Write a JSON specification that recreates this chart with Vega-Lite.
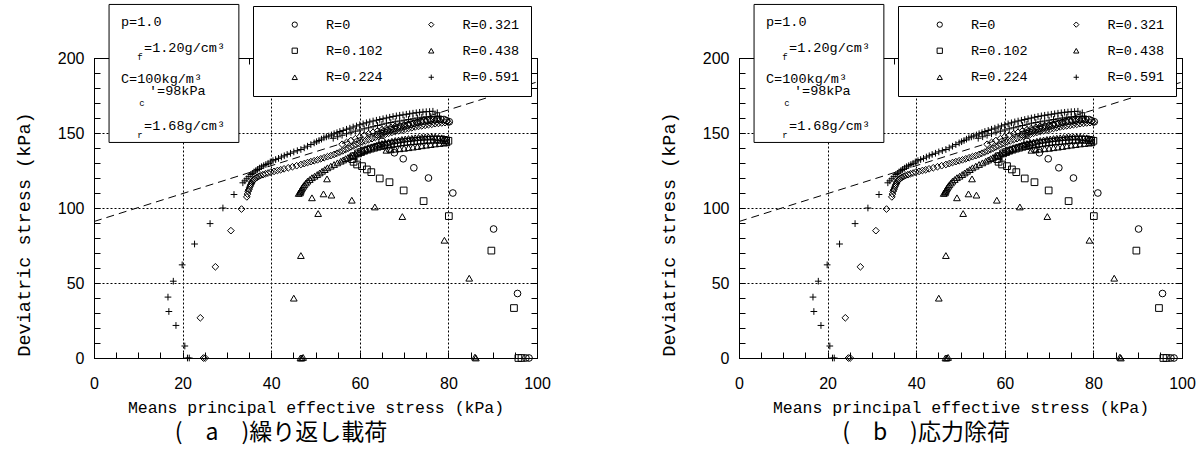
{
  "$schema": "https://vega.github.io/schema/vega-lite/v6.json",
  "background": "white",
  "padding": {"left": 13, "top": 3, "right": 5, "bottom": 5},
  "config": {
    "view": {"stroke": "black", "strokeWidth": 1},
    "axis": {"domainColor": "black", "tickColor": "black", "labelColor": "black", "titleColor": "black", "tickWidth": 1, "domainWidth": 1},
    "legend": {"titleOrient": "left", "titleFontSize": 1, "titlePadding": 23.5, "orient": "none", "legendX": 159, "legendY": -52, "columns": 2,
      "strokeColor": "black", "fillColor": "white", "padding": 11.5, "rowPadding": 11.5, "columnPadding": 41.5, "labelOffset": 24.5, "symbolOffset": 0,
      "labelFont": "Liberation Mono", "labelFontSize": 13.5, "labelColor": "black", "symbolSize": 28, "symbolStrokeColor": "black", "symbolStrokeWidth": 1, "symbolFillColor": "transparent"}
  },
  "datasets": {
    "cs": [{"p": 0, "q": 91}, {"p": 100, "q": 184}],
    "pts": [
      {"s": "R=0", "p": 98.2, "q": 0}, {"s": "R=0", "p": 97.5, "q": 0}, {"s": "R=0", "p": 95.6, "q": 43}, {"s": "R=0", "p": 90.2, "q": 86},
      {"s": "R=0", "p": 81, "q": 110}, {"s": "R=0", "p": 75.5, "q": 120}, {"s": "R=0", "p": 72.2, "q": 126.8}, {"s": "R=0", "p": 69.8, "q": 132.8},
      {"s": "R=0", "p": 67.8, "q": 136.8}, {"s": "R=0", "p": 66.6, "q": 139.3}, {"s": "R=0", "p": 65.6, "q": 141.8}, {"s": "R=0", "p": 65, "q": 144.5},
      {"s": "R=0", "p": 64, "q": 149}, {"s": "R=0", "p": 65.5, "q": 150.8}, {"s": "R=0", "p": 67, "q": 152.2}, {"s": "R=0", "p": 68.5, "q": 153.4},
      {"s": "R=0", "p": 70, "q": 154.6}, {"s": "R=0", "p": 71.5, "q": 155.8}, {"s": "R=0", "p": 73, "q": 157}, {"s": "R=0", "p": 74.5, "q": 158},
      {"s": "R=0", "p": 76, "q": 158.8}, {"s": "R=0", "p": 77.5, "q": 159.3}, {"s": "R=0", "p": 79, "q": 159}, {"s": "R=0", "p": 80.2, "q": 157.5},
      {"s": "R=0", "p": 64.75, "q": 149.9}, {"s": "R=0", "p": 66.25, "q": 151.5}, {"s": "R=0", "p": 67.75, "q": 152.8}, {"s": "R=0", "p": 69.25, "q": 154},
      {"s": "R=0", "p": 70.75, "q": 155.2}, {"s": "R=0", "p": 72.25, "q": 156.4}, {"s": "R=0", "p": 73.75, "q": 157.5}, {"s": "R=0", "p": 75.25, "q": 158.4},
      {"s": "R=0", "p": 76.75, "q": 159}, {"s": "R=0", "p": 78.25, "q": 159.2}, {"s": "R=0", "p": 79.6, "q": 158.2},

      {"s": "R=0.102", "p": 96.5, "q": 0}, {"s": "R=0.102", "p": 95.8, "q": 0}, {"s": "R=0.102", "p": 94.8, "q": 33.3}, {"s": "R=0.102", "p": 89.7, "q": 71.6},
      {"s": "R=0.102", "p": 80.1, "q": 94.6}, {"s": "R=0.102", "p": 74.4, "q": 104.6}, {"s": "R=0.102", "p": 69.9, "q": 111.7}, {"s": "R=0.102", "p": 66.7, "q": 117.2},
      {"s": "R=0.102", "p": 64.5, "q": 119.7}, {"s": "R=0.102", "p": 62.6, "q": 123.9}, {"s": "R=0.102", "p": 61.6, "q": 125.7}, {"s": "R=0.102", "p": 60.5, "q": 127.9},
      {"s": "R=0.102", "p": 59.4, "q": 129}, {"s": "R=0.102", "p": 58.6, "q": 130.8}, {"s": "R=0.102", "p": 58.3, "q": 132.6}, {"s": "R=0.102", "p": 58.6, "q": 134.5},
      {"s": "R=0.102", "p": 59.6, "q": 136.4}, {"s": "R=0.102", "p": 61, "q": 138.2}, {"s": "R=0.102", "p": 62.5, "q": 139.6}, {"s": "R=0.102", "p": 64, "q": 140.8},
      {"s": "R=0.102", "p": 65.5, "q": 141.8}, {"s": "R=0.102", "p": 67, "q": 142.6}, {"s": "R=0.102", "p": 68.5, "q": 143.3}, {"s": "R=0.102", "p": 70, "q": 143.9},
      {"s": "R=0.102", "p": 71.5, "q": 144.4}, {"s": "R=0.102", "p": 73, "q": 144.8}, {"s": "R=0.102", "p": 74.5, "q": 145.2}, {"s": "R=0.102", "p": 76, "q": 145.5},
      {"s": "R=0.102", "p": 77.5, "q": 145.6}, {"s": "R=0.102", "p": 79, "q": 145.4}, {"s": "R=0.102", "p": 80, "q": 144.8},
      {"s": "R=0.102", "p": 60.3, "q": 137.3}, {"s": "R=0.102", "p": 61.75, "q": 138.9}, {"s": "R=0.102", "p": 63.25, "q": 140.2}, {"s": "R=0.102", "p": 64.75, "q": 141.3},
      {"s": "R=0.102", "p": 66.25, "q": 142.2}, {"s": "R=0.102", "p": 67.75, "q": 143}, {"s": "R=0.102", "p": 69.25, "q": 143.6}, {"s": "R=0.102", "p": 70.75, "q": 144.2},
      {"s": "R=0.102", "p": 72.25, "q": 144.6}, {"s": "R=0.102", "p": 73.75, "q": 145}, {"s": "R=0.102", "p": 75.25, "q": 145.4}, {"s": "R=0.102", "p": 76.75, "q": 145.6},
      {"s": "R=0.102", "p": 78.25, "q": 145.5}, {"s": "R=0.102", "p": 79.5, "q": 145.1},

      {"s": "R=0.224", "p": 86.2, "q": 0}, {"s": "R=0.224", "p": 86, "q": 0.6}, {"s": "R=0.224", "p": 84.7, "q": 53.2}, {"s": "R=0.224", "p": 79.1, "q": 78.5},
      {"s": "R=0.224", "p": 69.6, "q": 94.3}, {"s": "R=0.224", "p": 63.4, "q": 100.7}, {"s": "R=0.224", "p": 58.2, "q": 105.2}, {"s": "R=0.224", "p": 53.6, "q": 108.6},
      {"s": "R=0.224", "p": 51.8, "q": 109.4}, {"s": "R=0.224", "p": 49.2, "q": 106.8}, {"s": "R=0.224", "p": 52.6, "q": 119.4},
      {"s": "R=0.224", "p": 66, "q": 138.5}, {"s": "R=0.224", "p": 68, "q": 139.2}, {"s": "R=0.224", "p": 70, "q": 139.8}, {"s": "R=0.224", "p": 72, "q": 140.6},
      {"s": "R=0.224", "p": 74, "q": 141.5}, {"s": "R=0.224", "p": 76, "q": 142.3}, {"s": "R=0.224", "p": 78, "q": 143}, {"s": "R=0.224", "p": 79.6, "q": 143.5},
      {"s": "R=0.224", "p": 67, "q": 138.8}, {"s": "R=0.224", "p": 69, "q": 139.5}, {"s": "R=0.224", "p": 71, "q": 140.2}, {"s": "R=0.224", "p": 73, "q": 141},
      {"s": "R=0.224", "p": 75, "q": 141.9}, {"s": "R=0.224", "p": 77, "q": 142.7}, {"s": "R=0.224", "p": 79, "q": 143.3},

      {"s": "R=0.438", "p": 46.9, "q": 0}, {"s": "R=0.438", "p": 46.6, "q": 0}, {"s": "R=0.438", "p": 47.2, "q": 0.4}, {"s": "R=0.438", "p": 45.1, "q": 39.9},
      {"s": "R=0.438", "p": 46.7, "q": 68.3}, {"s": "R=0.438", "p": 50.6, "q": 96.3}, {"s": "R=0.438", "p": 46.2, "q": 109.7}, {"s": "R=0.438", "p": 46.5, "q": 110.1},
      {"s": "R=0.438", "p": 46.7, "q": 111.8}, {"s": "R=0.438", "p": 47, "q": 113.4}, {"s": "R=0.438", "p": 47.5, "q": 115.5}, {"s": "R=0.438", "p": 48.2, "q": 117.9},
      {"s": "R=0.438", "p": 49.2, "q": 120.2}, {"s": "R=0.438", "p": 50.4, "q": 122.3}, {"s": "R=0.438", "p": 51.5, "q": 124.5}, {"s": "R=0.438", "p": 52.7, "q": 126.8},
      {"s": "R=0.438", "p": 54.2, "q": 129}, {"s": "R=0.438", "p": 55.7, "q": 131.2}, {"s": "R=0.438", "p": 56.8, "q": 132.9}, {"s": "R=0.438", "p": 57.9, "q": 134.6},
      {"s": "R=0.438", "p": 59, "q": 136}, {"s": "R=0.438", "p": 60.2, "q": 137.5}, {"s": "R=0.438", "p": 61.4, "q": 139}, {"s": "R=0.438", "p": 62.6, "q": 140.5},
      {"s": "R=0.438", "p": 63.8, "q": 141.8}, {"s": "R=0.438", "p": 65, "q": 143}, {"s": "R=0.438", "p": 66.5, "q": 144}, {"s": "R=0.438", "p": 68, "q": 145},
      {"s": "R=0.438", "p": 69.5, "q": 145.7}, {"s": "R=0.438", "p": 71, "q": 146.3}, {"s": "R=0.438", "p": 72.5, "q": 146.8}, {"s": "R=0.438", "p": 74, "q": 147.2},
      {"s": "R=0.438", "p": 75.5, "q": 147.4}, {"s": "R=0.438", "p": 77, "q": 147.3}, {"s": "R=0.438", "p": 78.5, "q": 146.8}, {"s": "R=0.438", "p": 79.5, "q": 146},
      {"s": "R=0.438", "p": 46.6, "q": 111}, {"s": "R=0.438", "p": 46.85, "q": 112.6}, {"s": "R=0.438", "p": 47.25, "q": 114.5}, {"s": "R=0.438", "p": 47.85, "q": 116.7},
      {"s": "R=0.438", "p": 48.7, "q": 119}, {"s": "R=0.438", "p": 49.8, "q": 121.2}, {"s": "R=0.438", "p": 50.95, "q": 123.4}, {"s": "R=0.438", "p": 52.1, "q": 125.6},
      {"s": "R=0.438", "p": 53.45, "q": 127.9}, {"s": "R=0.438", "p": 54.95, "q": 130.1}, {"s": "R=0.438", "p": 56.25, "q": 132}, {"s": "R=0.438", "p": 57.35, "q": 133.7},
      {"s": "R=0.438", "p": 58.45, "q": 135.3}, {"s": "R=0.438", "p": 59.6, "q": 136.7}, {"s": "R=0.438", "p": 60.8, "q": 138.2}, {"s": "R=0.438", "p": 62, "q": 139.7},
      {"s": "R=0.438", "p": 63.2, "q": 141.1}, {"s": "R=0.438", "p": 64.4, "q": 142.4}, {"s": "R=0.438", "p": 65.75, "q": 143.5}, {"s": "R=0.438", "p": 67.25, "q": 144.5},
      {"s": "R=0.438", "p": 68.75, "q": 145.3}, {"s": "R=0.438", "p": 70.25, "q": 146}, {"s": "R=0.438", "p": 71.75, "q": 146.5}, {"s": "R=0.438", "p": 73.25, "q": 147},
      {"s": "R=0.438", "p": 74.75, "q": 147.3}, {"s": "R=0.438", "p": 76.25, "q": 147.4}, {"s": "R=0.438", "p": 77.75, "q": 147}, {"s": "R=0.438", "p": 79, "q": 146.4},

      {"s": "R=0.321", "p": 25.1, "q": 0}, {"s": "R=0.321", "p": 24.7, "q": 0}, {"s": "R=0.321", "p": 24, "q": 26.8}, {"s": "R=0.321", "p": 27.4, "q": 60.8},
      {"s": "R=0.321", "p": 30.9, "q": 84.9}, {"s": "R=0.321", "p": 33.3, "q": 99.3}, {"s": "R=0.321", "p": 34.5, "q": 107.4}, {"s": "R=0.321", "p": 34.8, "q": 111.2},
      {"s": "R=0.321", "p": 35.1, "q": 113.5}, {"s": "R=0.321", "p": 35.4, "q": 115.7}, {"s": "R=0.321", "p": 35.7, "q": 117.5}, {"s": "R=0.321", "p": 36.1, "q": 119},
      {"s": "R=0.321", "p": 36.8, "q": 120.5}, {"s": "R=0.321", "p": 37.6, "q": 121.7}, {"s": "R=0.321", "p": 38.7, "q": 122.8}, {"s": "R=0.321", "p": 39.9, "q": 123.9},
      {"s": "R=0.321", "p": 41.4, "q": 125}, {"s": "R=0.321", "p": 42.9, "q": 126.1}, {"s": "R=0.321", "p": 44.8, "q": 127.5}, {"s": "R=0.321", "p": 46.7, "q": 129},
      {"s": "R=0.321", "p": 48.2, "q": 130.3}, {"s": "R=0.321", "p": 49.7, "q": 131.5}, {"s": "R=0.321", "p": 51.2, "q": 132.8}, {"s": "R=0.321", "p": 52.7, "q": 134.2},
      {"s": "R=0.321", "p": 54.2, "q": 135.7}, {"s": "R=0.321", "p": 55.5, "q": 137.3}, {"s": "R=0.321", "p": 56.8, "q": 139}, {"s": "R=0.321", "p": 58, "q": 140.7},
      {"s": "R=0.321", "p": 59.2, "q": 142.3}, {"s": "R=0.321", "p": 60.5, "q": 144}, {"s": "R=0.321", "p": 62, "q": 145.5}, {"s": "R=0.321", "p": 63.5, "q": 147},
      {"s": "R=0.321", "p": 65, "q": 148.5}, {"s": "R=0.321", "p": 66.5, "q": 149.8}, {"s": "R=0.321", "p": 68, "q": 151}, {"s": "R=0.321", "p": 69.5, "q": 152},
      {"s": "R=0.321", "p": 71, "q": 153}, {"s": "R=0.321", "p": 72.5, "q": 154}, {"s": "R=0.321", "p": 74, "q": 154.8}, {"s": "R=0.321", "p": 75.5, "q": 155.5},
      {"s": "R=0.321", "p": 77, "q": 156.2}, {"s": "R=0.321", "p": 78.5, "q": 156.7}, {"s": "R=0.321", "p": 80, "q": 157},
      {"s": "R=0.321", "p": 56, "q": 142.5}, {"s": "R=0.321", "p": 58, "q": 145}, {"s": "R=0.321", "p": 60, "q": 147.5}, {"s": "R=0.321", "p": 62, "q": 149.5},
      {"s": "R=0.321", "p": 64, "q": 151.5}, {"s": "R=0.321", "p": 66, "q": 153}, {"s": "R=0.321", "p": 68, "q": 154.5}, {"s": "R=0.321", "p": 70, "q": 155.5},
      {"s": "R=0.321", "p": 72, "q": 156.5}, {"s": "R=0.321", "p": 74, "q": 157.5}, {"s": "R=0.321", "p": 76, "q": 158}, {"s": "R=0.321", "p": 78, "q": 158.5},
      {"s": "R=0.321", "p": 34.65, "q": 109.3}, {"s": "R=0.321", "p": 34.95, "q": 112.3}, {"s": "R=0.321", "p": 35.25, "q": 114.6}, {"s": "R=0.321", "p": 35.55, "q": 116.6},
      {"s": "R=0.321", "p": 35.9, "q": 118.2}, {"s": "R=0.321", "p": 36.45, "q": 119.8}, {"s": "R=0.321", "p": 37.2, "q": 121.1}, {"s": "R=0.321", "p": 38.15, "q": 122.2},
      {"s": "R=0.321", "p": 39.3, "q": 123.3}, {"s": "R=0.321", "p": 40.65, "q": 124.4}, {"s": "R=0.321", "p": 42.15, "q": 125.5}, {"s": "R=0.321", "p": 43.85, "q": 126.8},
      {"s": "R=0.321", "p": 45.75, "q": 128.2}, {"s": "R=0.321", "p": 47.45, "q": 129.6}, {"s": "R=0.321", "p": 48.95, "q": 130.9}, {"s": "R=0.321", "p": 50.45, "q": 132.1},
      {"s": "R=0.321", "p": 51.95, "q": 133.5}, {"s": "R=0.321", "p": 53.45, "q": 134.9}, {"s": "R=0.321", "p": 54.85, "q": 136.5}, {"s": "R=0.321", "p": 56.15, "q": 138.1},
      {"s": "R=0.321", "p": 57.4, "q": 139.8}, {"s": "R=0.321", "p": 58.6, "q": 141.5}, {"s": "R=0.321", "p": 59.85, "q": 143.1}, {"s": "R=0.321", "p": 61.25, "q": 144.7},
      {"s": "R=0.321", "p": 62.75, "q": 146.2}, {"s": "R=0.321", "p": 64.25, "q": 147.7}, {"s": "R=0.321", "p": 65.75, "q": 149.1}, {"s": "R=0.321", "p": 67.25, "q": 150.4},
      {"s": "R=0.321", "p": 68.75, "q": 151.5}, {"s": "R=0.321", "p": 70.25, "q": 152.5}, {"s": "R=0.321", "p": 71.75, "q": 153.5}, {"s": "R=0.321", "p": 73.25, "q": 154.4},
      {"s": "R=0.321", "p": 74.75, "q": 155.1}, {"s": "R=0.321", "p": 76.25, "q": 155.8}, {"s": "R=0.321", "p": 77.75, "q": 156.4}, {"s": "R=0.321", "p": 79.25, "q": 156.9},
      {"s": "R=0.321", "p": 57, "q": 143.7}, {"s": "R=0.321", "p": 59, "q": 146.2}, {"s": "R=0.321", "p": 61, "q": 148.5}, {"s": "R=0.321", "p": 63, "q": 150.5},
      {"s": "R=0.321", "p": 65, "q": 152.2}, {"s": "R=0.321", "p": 67, "q": 153.8}, {"s": "R=0.321", "p": 69, "q": 155}, {"s": "R=0.321", "p": 71, "q": 156},
      {"s": "R=0.321", "p": 73, "q": 157}, {"s": "R=0.321", "p": 75, "q": 157.8}, {"s": "R=0.321", "p": 77, "q": 158.2},

      {"s": "R=0.591", "p": 21.5, "q": 0}, {"s": "R=0.591", "p": 21.1, "q": 0}, {"s": "R=0.591", "p": 20.5, "q": 8}, {"s": "R=0.591", "p": 18.5, "q": 21.7},
      {"s": "R=0.591", "p": 16.9, "q": 31}, {"s": "R=0.591", "p": 16.7, "q": 40.6}, {"s": "R=0.591", "p": 17.9, "q": 51.2}, {"s": "R=0.591", "p": 19.9, "q": 62.1},
      {"s": "R=0.591", "p": 22.7, "q": 76}, {"s": "R=0.591", "p": 26.2, "q": 89.6}, {"s": "R=0.591", "p": 29.1, "q": 100}, {"s": "R=0.591", "p": 31.6, "q": 109},
      {"s": "R=0.591", "p": 33.6, "q": 116.8}, {"s": "R=0.591", "p": 34.5, "q": 119.5}, {"s": "R=0.591", "p": 35.4, "q": 122.3}, {"s": "R=0.591", "p": 36.1, "q": 124},
      {"s": "R=0.591", "p": 36.9, "q": 125.7}, {"s": "R=0.591", "p": 37.8, "q": 127.5}, {"s": "R=0.591", "p": 38.8, "q": 129}, {"s": "R=0.591", "p": 39.8, "q": 130.7},
      {"s": "R=0.591", "p": 41, "q": 132.3}, {"s": "R=0.591", "p": 42.3, "q": 134}, {"s": "R=0.591", "p": 43.6, "q": 135.7}, {"s": "R=0.591", "p": 45.1, "q": 137.4},
      {"s": "R=0.591", "p": 46.7, "q": 139}, {"s": "R=0.591", "p": 48.2, "q": 141.2}, {"s": "R=0.591", "p": 49.7, "q": 143.4}, {"s": "R=0.591", "p": 50.8, "q": 145},
      {"s": "R=0.591", "p": 51.9, "q": 146.8}, {"s": "R=0.591", "p": 53, "q": 148}, {"s": "R=0.591", "p": 54.2, "q": 149.5}, {"s": "R=0.591", "p": 55.5, "q": 151},
      {"s": "R=0.591", "p": 57, "q": 152.5}, {"s": "R=0.591", "p": 58.5, "q": 154}, {"s": "R=0.591", "p": 60, "q": 155.5}, {"s": "R=0.591", "p": 61.5, "q": 156.8},
      {"s": "R=0.591", "p": 63, "q": 158}, {"s": "R=0.591", "p": 64.5, "q": 159}, {"s": "R=0.591", "p": 66, "q": 160}, {"s": "R=0.591", "p": 67.5, "q": 161},
      {"s": "R=0.591", "p": 69, "q": 161.8}, {"s": "R=0.591", "p": 70.5, "q": 162.5}, {"s": "R=0.591", "p": 72, "q": 163.2}, {"s": "R=0.591", "p": 73.5, "q": 163.8},
      {"s": "R=0.591", "p": 75, "q": 164.2}, {"s": "R=0.591", "p": 76.5, "q": 164.5}, {"s": "R=0.591", "p": 77.5, "q": 163.5},
      {"s": "R=0.591", "p": 54, "q": 146.5}, {"s": "R=0.591", "p": 56, "q": 148.5}, {"s": "R=0.591", "p": 58, "q": 150.5}, {"s": "R=0.591", "p": 60, "q": 152},
      {"s": "R=0.591", "p": 62, "q": 153.5}, {"s": "R=0.591", "p": 64, "q": 155}, {"s": "R=0.591", "p": 66, "q": 156.5}, {"s": "R=0.591", "p": 68, "q": 157.5},
      {"s": "R=0.591", "p": 70, "q": 158.5}, {"s": "R=0.591", "p": 72, "q": 159.5}, {"s": "R=0.591", "p": 74, "q": 160.5}, {"s": "R=0.591", "p": 76, "q": 161},
      {"s": "R=0.591", "p": 78, "q": 161},
      {"s": "R=0.591", "p": 34.05, "q": 118.1}, {"s": "R=0.591", "p": 34.95, "q": 120.9}, {"s": "R=0.591", "p": 35.75, "q": 123.1}, {"s": "R=0.591", "p": 36.5, "q": 124.8},
      {"s": "R=0.591", "p": 37.35, "q": 126.6}, {"s": "R=0.591", "p": 38.3, "q": 128.2}, {"s": "R=0.591", "p": 39.3, "q": 129.8}, {"s": "R=0.591", "p": 40.4, "q": 131.5},
      {"s": "R=0.591", "p": 41.65, "q": 133.1}, {"s": "R=0.591", "p": 42.95, "q": 134.8}, {"s": "R=0.591", "p": 44.35, "q": 136.5}, {"s": "R=0.591", "p": 45.9, "q": 138.2},
      {"s": "R=0.591", "p": 47.45, "q": 140.1}, {"s": "R=0.591", "p": 48.95, "q": 142.3}, {"s": "R=0.591", "p": 50.25, "q": 144.2}, {"s": "R=0.591", "p": 51.35, "q": 145.9},
      {"s": "R=0.591", "p": 52.45, "q": 147.4}, {"s": "R=0.591", "p": 53.6, "q": 148.7}, {"s": "R=0.591", "p": 54.85, "q": 150.2}, {"s": "R=0.591", "p": 56.25, "q": 151.7},
      {"s": "R=0.591", "p": 57.75, "q": 153.2}, {"s": "R=0.591", "p": 59.25, "q": 154.7}, {"s": "R=0.591", "p": 60.75, "q": 156.1}, {"s": "R=0.591", "p": 62.25, "q": 157.4},
      {"s": "R=0.591", "p": 63.75, "q": 158.5}, {"s": "R=0.591", "p": 65.25, "q": 159.5}, {"s": "R=0.591", "p": 66.75, "q": 160.5}, {"s": "R=0.591", "p": 68.25, "q": 161.4},
      {"s": "R=0.591", "p": 69.75, "q": 162.1}, {"s": "R=0.591", "p": 71.25, "q": 162.8}, {"s": "R=0.591", "p": 72.75, "q": 163.5}, {"s": "R=0.591", "p": 74.25, "q": 164},
      {"s": "R=0.591", "p": 75.75, "q": 164.3},
      {"s": "R=0.591", "p": 55, "q": 147.5}, {"s": "R=0.591", "p": 57, "q": 149.5}, {"s": "R=0.591", "p": 59, "q": 151.2}, {"s": "R=0.591", "p": 61, "q": 152.8},
      {"s": "R=0.591", "p": 63, "q": 154.2}, {"s": "R=0.591", "p": 65, "q": 155.8}, {"s": "R=0.591", "p": 67, "q": 157}, {"s": "R=0.591", "p": 69, "q": 158},
      {"s": "R=0.591", "p": 71, "q": 159}, {"s": "R=0.591", "p": 73, "q": 160}, {"s": "R=0.591", "p": 75, "q": 160.8}, {"s": "R=0.591", "p": 77, "q": 161}
    ]
  },
  "spacing": 107,
  "resolve": {"scale": {"shape": "independent"}, "legend": {"shape": "independent"}},
  "hconcat": [
    {
      "width": 443, "height": 300,
      "title": {"text": "(　a　)繰り返し載荷", "orient": "bottom", "anchor": "middle", "dx": -34.5, "offset": 6, "font": "Noto Sans CJK JP", "fontSize": 23, "fontWeight": "normal", "color": "black"},
      "resolve": {"axis": {"x": "independent", "y": "independent"}},
      "layer": [
        {
          "data": {"name": "pts"},
          "mark": {"type": "point", "filled": false, "stroke": "black", "strokeWidth": 1, "size": 45, "opacity": 1},
          "encoding": {
            "x": {"field": "p", "type": "quantitative", "scale": {"domain": [0, 100], "nice": false, "zero": false},
              "axis": {"orient": "bottom", "values": [0,5,10,15,20,25,30,35,40,45,50,55,60,65,70,75,80,85,90,95,100], "labelExpr": "datum.value % 20 === 0 ? datum.label : ''",
                "tickSize": -6, "labelPadding": 23.5, "labelFlush": false, "labelOverlap": false, "labelFont": "Liberation Sans", "labelFontSize": 16,
                "grid": true, "gridColor": "black", "gridDash": [2, 2], "gridOpacity": {"condition": {"test": "datum.value % 20 === 0", "value": 1}, "value": 0},
                "title": "Means principal effective stress (kPa)", "titleFont": "Liberation Mono", "titleFontSize": 16.5, "titleFontWeight": "normal", "titlePadding": 8}},
            "y": {"field": "q", "type": "quantitative", "scale": {"domain": [0, 200], "nice": false, "zero": false},
              "axis": {"orient": "left", "values": [0,10,20,30,40,50,60,70,80,90,100,110,120,130,140,150,160,170,180,190,200], "labelExpr": "datum.value % 50 === 0 ? datum.label : ''",
                "tickSize": -6, "labelPadding": 16, "labelFlush": false, "labelOverlap": false, "labelFont": "Liberation Sans", "labelFontSize": 16,
                "grid": true, "gridColor": "black", "gridDash": [2, 2], "gridOpacity": {"condition": {"test": "datum.value % 50 === 0", "value": 1}, "value": 0},
                "title": "Deviatric stress (kPa)", "titleFont": "Liberation Mono", "titleFontSize": 18.5, "titleFontWeight": "normal",
                "titleAngle": 270, "titleAlign": "center", "titleBaseline": "bottom", "titleX": -61, "titleY": 176}},
            "shape": {"field": "s", "type": "nominal",
              "scale": {"domain": ["R=0", "R=0.102", "R=0.224", "R=0.321", "R=0.438", "R=0.591"], "range": ["circle", "square", "triangle-up", "diamond", "triangle-up", "M-1,0L1,0M0,-1L0,1"]},
              "legend": {"title": "\u00a0", "titleOrient": "left", "titleFontSize": 1, "titlePadding": 23.5, "orient": "none", "legendX": 159, "legendY": -52}}
          }
        },
        {
          "data": {"name": "cs"},
          "mark": {"type": "line", "color": "black", "strokeWidth": 1, "strokeDash": [8, 5]},
          "encoding": {
            "x": {"field": "p", "type": "quantitative", "scale": {"domain": [0, 100], "nice": false, "zero": false},
              "axis": {"orient": "top", "values": [0,5,10,15,20,25,30,35,40,45,50,55,60,65,70,75,80,85,90,95,100], "labels": false, "tickSize": -6, "grid": false, "title": null}},
            "y": {"field": "q", "type": "quantitative", "scale": {"domain": [0, 200], "nice": false, "zero": false},
              "axis": {"orient": "right", "values": [0,10,20,30,40,50,60,70,80,90,100,110,120,130,140,150,160,170,180,190,200], "labels": false, "tickSize": -6, "grid": false, "title": null}}
          }
        },
        {
          "data": {"values": [{}]},
          "mark": {"type": "rect", "fill": "white", "stroke": "black", "strokeWidth": 1},
          "encoding": {"x": {"datum": 3.4, "type": "quantitative", "axis": null}, "x2": {"datum": 32.7}, "y": {"datum": 235.7, "type": "quantitative", "axis": null}, "y2": {"datum": 143.7}}
        },
        {"data": {"values": [{}]}, "mark": {"type": "text", "text": "p=1.0", "font": "Liberation Mono", "fontSize": 13.5, "align": "left", "baseline": "middle", "color": "black"},
          "encoding": {"x": {"datum": 6.1, "type": "quantitative", "axis": null}, "y": {"datum": 223.7, "type": "quantitative", "axis": null}}},
        {"data": {"values": [{}]}, "mark": {"type": "text", "text": "=1.20g/cm³", "font": "Liberation Mono", "fontSize": 13.5, "align": "left", "baseline": "middle", "color": "black"},
          "encoding": {"x": {"datum": 11.3, "type": "quantitative", "axis": null}, "y": {"datum": 207, "type": "quantitative", "axis": null}}},
        {"data": {"values": [{}]}, "mark": {"type": "text", "text": "f", "font": "Liberation Mono", "fontSize": 9, "align": "center", "baseline": "middle", "color": "black"},
          "encoding": {"x": {"datum": 10.4, "type": "quantitative", "axis": null}, "y": {"datum": 201, "type": "quantitative", "axis": null}}},
        {"data": {"values": [{}]}, "mark": {"type": "text", "text": "C=100kg/m³", "font": "Liberation Mono", "fontSize": 13.5, "align": "left", "baseline": "middle", "color": "black"},
          "encoding": {"x": {"datum": 6.1, "type": "quantitative", "axis": null}, "y": {"datum": 185.7, "type": "quantitative", "axis": null}}},
        {"data": {"values": [{}]}, "mark": {"type": "text", "text": "'=98kPa", "font": "Liberation Mono", "fontSize": 13.5, "align": "left", "baseline": "middle", "color": "black"},
          "encoding": {"x": {"datum": 12.4, "type": "quantitative", "axis": null}, "y": {"datum": 177.7, "type": "quantitative", "axis": null}}},
        {"data": {"values": [{}]}, "mark": {"type": "text", "text": "c", "font": "Liberation Mono", "fontSize": 9, "align": "center", "baseline": "middle", "color": "black"},
          "encoding": {"x": {"datum": 10.8, "type": "quantitative", "axis": null}, "y": {"datum": 170.3, "type": "quantitative", "axis": null}}},
        {"data": {"values": [{}]}, "mark": {"type": "text", "text": "=1.68g/cm³", "font": "Liberation Mono", "fontSize": 13.5, "align": "left", "baseline": "middle", "color": "black"},
          "encoding": {"x": {"datum": 11.3, "type": "quantitative", "axis": null}, "y": {"datum": 155, "type": "quantitative", "axis": null}}},
        {"data": {"values": [{}]}, "mark": {"type": "text", "text": "r", "font": "Liberation Mono", "fontSize": 9, "align": "center", "baseline": "middle", "color": "black"},
          "encoding": {"x": {"datum": 10.4, "type": "quantitative", "axis": null}, "y": {"datum": 149, "type": "quantitative", "axis": null}}}
      ]
    },
    {
      "width": 443, "height": 300,
      "title": {"text": "(　b　)応力除荷", "orient": "bottom", "anchor": "middle", "dx": -34.5, "offset": 6, "font": "Noto Sans CJK JP", "fontSize": 23, "fontWeight": "normal", "color": "black"},
      "resolve": {"axis": {"x": "independent", "y": "independent"}},
      "layer": [
        {
          "data": {"name": "pts"},
          "mark": {"type": "point", "filled": false, "stroke": "black", "strokeWidth": 1, "size": 45, "opacity": 1},
          "encoding": {
            "x": {"field": "p", "type": "quantitative", "scale": {"domain": [0, 100], "nice": false, "zero": false},
              "axis": {"orient": "bottom", "values": [0,5,10,15,20,25,30,35,40,45,50,55,60,65,70,75,80,85,90,95,100], "labelExpr": "datum.value % 20 === 0 ? datum.label : ''",
                "tickSize": -6, "labelPadding": 23.5, "labelFlush": false, "labelOverlap": false, "labelFont": "Liberation Sans", "labelFontSize": 16,
                "grid": true, "gridColor": "black", "gridDash": [2, 2], "gridOpacity": {"condition": {"test": "datum.value % 20 === 0", "value": 1}, "value": 0},
                "title": "Means principal effective stress (kPa)", "titleFont": "Liberation Mono", "titleFontSize": 16.5, "titleFontWeight": "normal", "titlePadding": 8}},
            "y": {"field": "q", "type": "quantitative", "scale": {"domain": [0, 200], "nice": false, "zero": false},
              "axis": {"orient": "left", "values": [0,10,20,30,40,50,60,70,80,90,100,110,120,130,140,150,160,170,180,190,200], "labelExpr": "datum.value % 50 === 0 ? datum.label : ''",
                "tickSize": -6, "labelPadding": 16, "labelFlush": false, "labelOverlap": false, "labelFont": "Liberation Sans", "labelFontSize": 16,
                "grid": true, "gridColor": "black", "gridDash": [2, 2], "gridOpacity": {"condition": {"test": "datum.value % 50 === 0", "value": 1}, "value": 0},
                "title": "Deviatric stress (kPa)", "titleFont": "Liberation Mono", "titleFontSize": 18.5, "titleFontWeight": "normal",
                "titleAngle": 270, "titleAlign": "center", "titleBaseline": "bottom", "titleX": -61, "titleY": 176}},
            "shape": {"field": "s", "type": "nominal",
              "scale": {"domain": ["R=0", "R=0.102", "R=0.224", "R=0.321", "R=0.438", "R=0.591"], "range": ["circle", "square", "triangle-up", "diamond", "triangle-up", "M-1,0L1,0M0,-1L0,1"]},
              "legend": {"title": "\u00a0", "titleOrient": "left", "titleFontSize": 1, "titlePadding": 23.5, "orient": "none", "legendX": 159, "legendY": -52}}
          }
        },
        {
          "data": {"name": "cs"},
          "mark": {"type": "line", "color": "black", "strokeWidth": 1, "strokeDash": [8, 5]},
          "encoding": {
            "x": {"field": "p", "type": "quantitative", "scale": {"domain": [0, 100], "nice": false, "zero": false},
              "axis": {"orient": "top", "values": [0,5,10,15,20,25,30,35,40,45,50,55,60,65,70,75,80,85,90,95,100], "labels": false, "tickSize": -6, "grid": false, "title": null}},
            "y": {"field": "q", "type": "quantitative", "scale": {"domain": [0, 200], "nice": false, "zero": false},
              "axis": {"orient": "right", "values": [0,10,20,30,40,50,60,70,80,90,100,110,120,130,140,150,160,170,180,190,200], "labels": false, "tickSize": -6, "grid": false, "title": null}}
          }
        },
        {
          "data": {"values": [{}]},
          "mark": {"type": "rect", "fill": "white", "stroke": "black", "strokeWidth": 1},
          "encoding": {"x": {"datum": 3.4, "type": "quantitative", "axis": null}, "x2": {"datum": 32.7}, "y": {"datum": 235.7, "type": "quantitative", "axis": null}, "y2": {"datum": 143.7}}
        },
        {"data": {"values": [{}]}, "mark": {"type": "text", "text": "p=1.0", "font": "Liberation Mono", "fontSize": 13.5, "align": "left", "baseline": "middle", "color": "black"},
          "encoding": {"x": {"datum": 6.1, "type": "quantitative", "axis": null}, "y": {"datum": 223.7, "type": "quantitative", "axis": null}}},
        {"data": {"values": [{}]}, "mark": {"type": "text", "text": "=1.20g/cm³", "font": "Liberation Mono", "fontSize": 13.5, "align": "left", "baseline": "middle", "color": "black"},
          "encoding": {"x": {"datum": 11.3, "type": "quantitative", "axis": null}, "y": {"datum": 207, "type": "quantitative", "axis": null}}},
        {"data": {"values": [{}]}, "mark": {"type": "text", "text": "f", "font": "Liberation Mono", "fontSize": 9, "align": "center", "baseline": "middle", "color": "black"},
          "encoding": {"x": {"datum": 10.4, "type": "quantitative", "axis": null}, "y": {"datum": 201, "type": "quantitative", "axis": null}}},
        {"data": {"values": [{}]}, "mark": {"type": "text", "text": "C=100kg/m³", "font": "Liberation Mono", "fontSize": 13.5, "align": "left", "baseline": "middle", "color": "black"},
          "encoding": {"x": {"datum": 6.1, "type": "quantitative", "axis": null}, "y": {"datum": 185.7, "type": "quantitative", "axis": null}}},
        {"data": {"values": [{}]}, "mark": {"type": "text", "text": "'=98kPa", "font": "Liberation Mono", "fontSize": 13.5, "align": "left", "baseline": "middle", "color": "black"},
          "encoding": {"x": {"datum": 12.4, "type": "quantitative", "axis": null}, "y": {"datum": 177.7, "type": "quantitative", "axis": null}}},
        {"data": {"values": [{}]}, "mark": {"type": "text", "text": "c", "font": "Liberation Mono", "fontSize": 9, "align": "center", "baseline": "middle", "color": "black"},
          "encoding": {"x": {"datum": 10.8, "type": "quantitative", "axis": null}, "y": {"datum": 170.3, "type": "quantitative", "axis": null}}},
        {"data": {"values": [{}]}, "mark": {"type": "text", "text": "=1.68g/cm³", "font": "Liberation Mono", "fontSize": 13.5, "align": "left", "baseline": "middle", "color": "black"},
          "encoding": {"x": {"datum": 11.3, "type": "quantitative", "axis": null}, "y": {"datum": 155, "type": "quantitative", "axis": null}}},
        {"data": {"values": [{}]}, "mark": {"type": "text", "text": "r", "font": "Liberation Mono", "fontSize": 9, "align": "center", "baseline": "middle", "color": "black"},
          "encoding": {"x": {"datum": 10.4, "type": "quantitative", "axis": null}, "y": {"datum": 149, "type": "quantitative", "axis": null}}}
      ]
    }
  ]
}
